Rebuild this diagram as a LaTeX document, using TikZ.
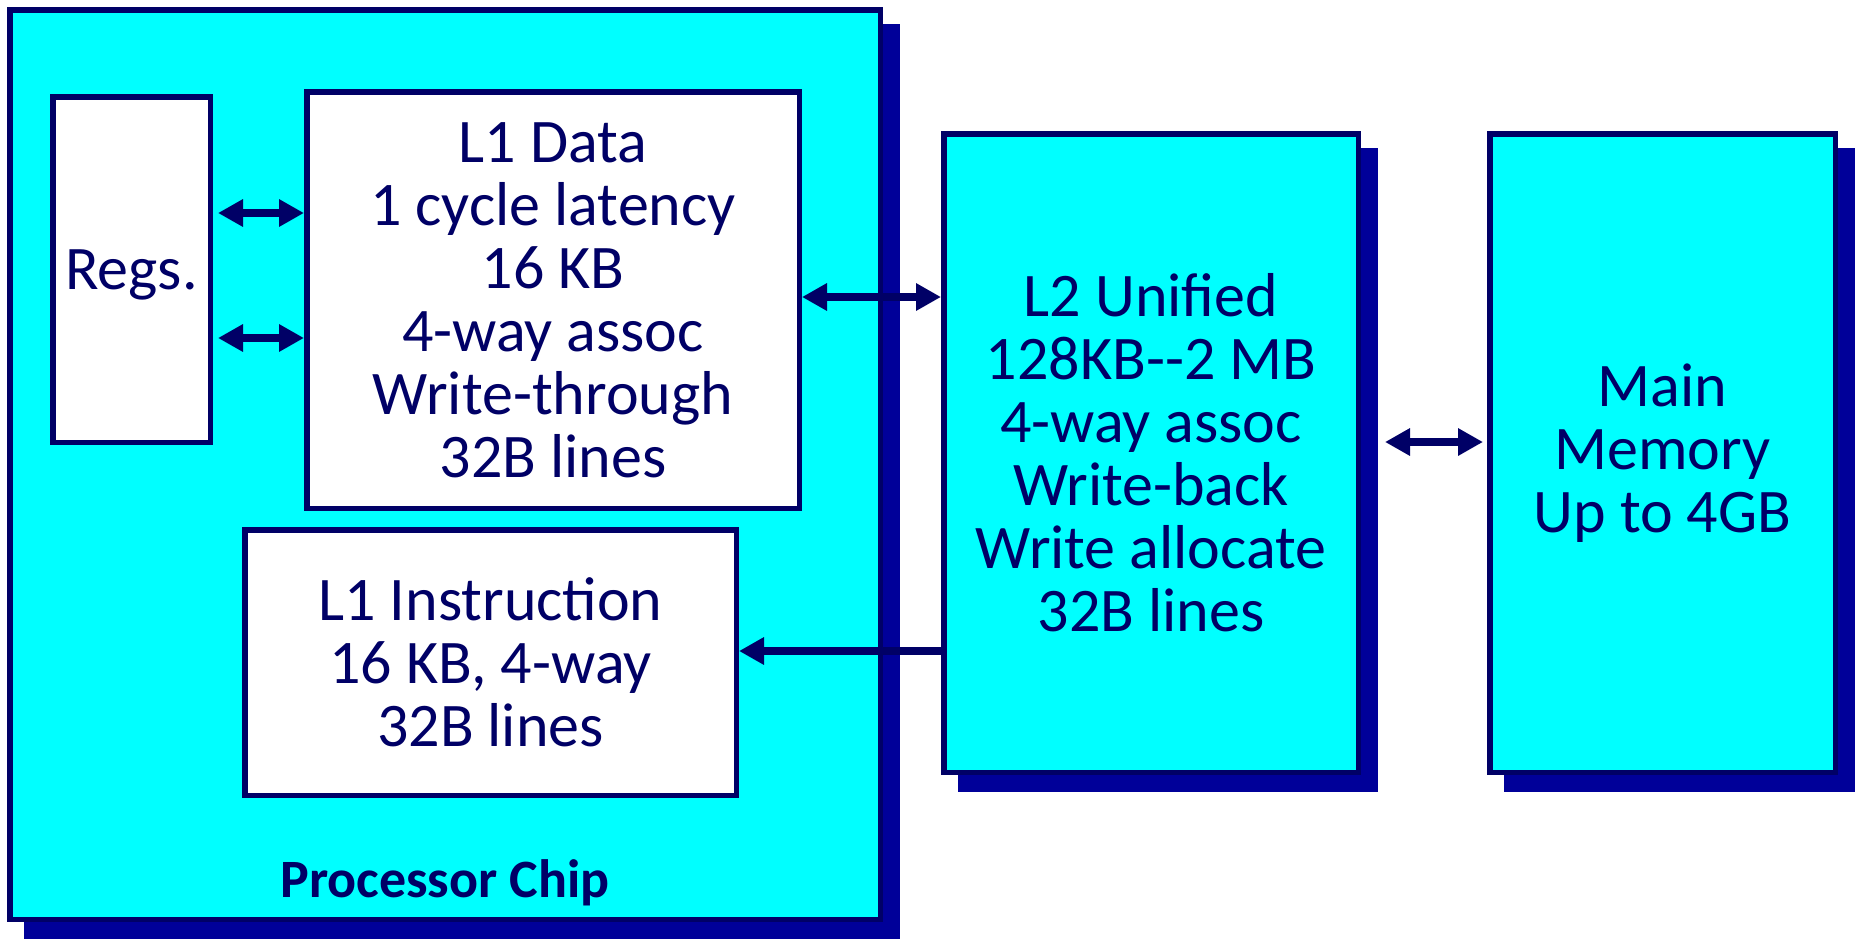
\documentclass[tikz,border=0pt]{standalone}
\usepackage{fontspec}
\setmainfont{Carlito}
\usetikzlibrary{arrows.meta,backgrounds}
\definecolor{cyanfill}{RGB}{0,255,255}
\definecolor{navyline}{RGB}{0,0,102}
\definecolor{shadowc}{RGB}{0,0,153}
\begin{document}
\begin{tikzpicture}[x=1pt,y=-1pt,
  box/.style={draw=navyline, line width=5.5pt, fill=cyanfill, inner sep=0pt,
    text=navyline, font=\fontsize{62}{63}\selectfont, align=center},
  wbox/.style={box, fill=white},
  arr/.style={draw=navyline, line width=8.5pt,
    {Triangle[length=25pt,width=26pt]}-{Triangle[length=25pt,width=26pt]}},
  arrone/.style={draw=navyline, line width=8.5pt, -{Triangle[length=25pt,width=26pt]}},
  chiplabel/.style={text=navyline, font=\fontsize{54}{54}\selectfont\bfseries, anchor=base, inner sep=0pt}
]
\useasboundingbox (0,0) rectangle (1855,938);

% boxes
\node[box, minimum width=870.5pt, minimum height=909.5pt] (chip) at (445,464.5) {};
\node[wbox, minimum width=157.5pt, minimum height=345.5pt, text depth=0pt] (regs) at (131.5,269.5) {Regs.};
\node[wbox, minimum width=492.5pt, minimum height=416.5pt] (l1d) at (553,300)
  {L1 Data\\1 cycle latency\\16 KB\\4-way assoc\\Write-through\\32B lines};
\node[wbox, minimum width=491.5pt, minimum height=265.5pt] (l1i) at (490.5,662.5)
  {L1 Instruction\\16 KB, 4-way\\32B lines};
\node[box, minimum width=414.5pt, minimum height=638.5pt] (l2) at (1151,453)
  {L2 Unified\\128KB-{}-2 MB\\4-way assoc\\Write-back\\Write allocate\\32B lines};
\node[box, minimum width=345.5pt, minimum height=638.5pt] (mem) at (1662.5,453)
  {Main\\Memory\\Up to 4GB};
\node[chiplabel] (pc) at ([yshift=25pt]chip.south) {Processor Chip};

% shadows
\begin{scope}[on background layer]
  \foreach \n in {chip,l2,mem}
    \fill[shadowc] ([xshift=17pt,yshift=-17pt]\n.north west) rectangle ([xshift=17pt,yshift=-17pt]\n.south east);
\end{scope}

% connectors
\coordinate (ya) at (0,213);
\coordinate (yb) at (0,338);
\coordinate (yc) at (0,297);
\coordinate (yd) at (0,651);
\coordinate (ye) at (0,442);
\draw[arr, shorten <=5pt] (regs.east|-ya) -- (l1d.west|-ya);
\draw[arr, shorten <=5pt] (regs.east|-yb) -- (l1d.west|-yb);
\draw[arr] (l1d.east|-yc) -- (l2.west|-yc);
\draw[arrone] (l2.west|-yd) -- (l1i.east|-yd);
\draw[arr, shorten <=24pt, shorten >=4pt] (l2.east|-ye) -- (mem.west|-ye);
\end{tikzpicture}
\end{document}
